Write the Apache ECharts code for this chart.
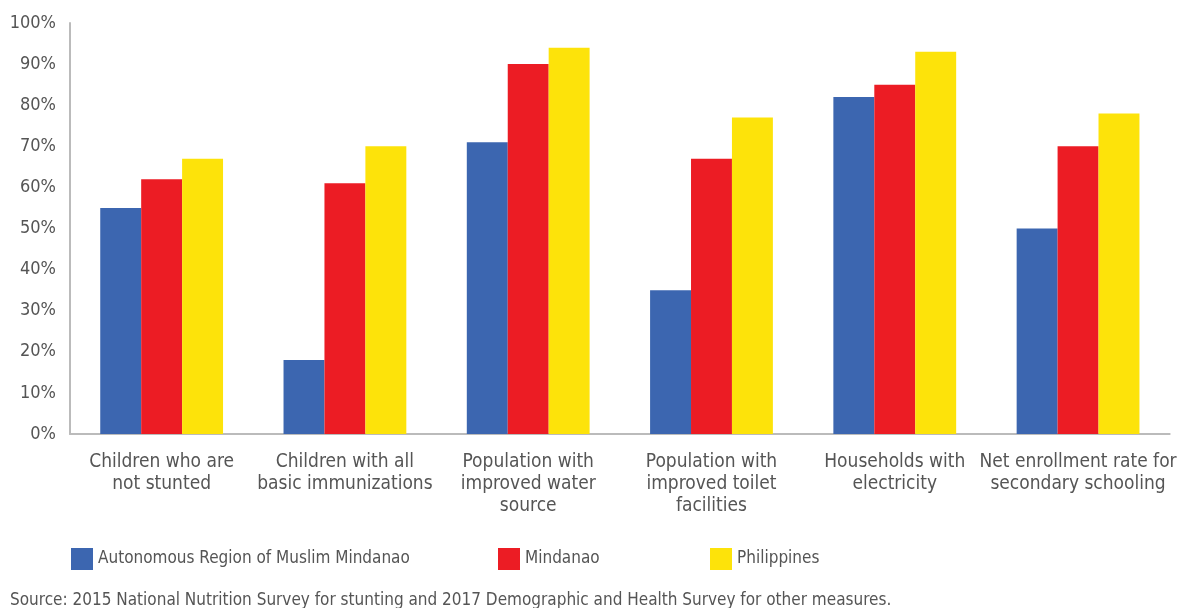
<!DOCTYPE html>
<html>
<head>
<meta charset="utf-8">
<script src="https://cdn.jsdelivr.net/npm/echarts@6/dist/echarts.min.js"></script>
<style>
  html, body { margin: 0; padding: 0; background: #fff; }
  #chart { width: 1179px; height: 608px; }
</style>
</head>
<body>
<div id="chart"></div>
<script>
// categories and values (percent)
const categories = [
    'Children who are\nnot stunted',
    'Children with all\nbasic immunizations',
    'Population with\nimproved water\nsource',
    'Population with\nimproved toilet\nfacilities',
    'Households with\nelectricity',
    'Net enrollment rate for\nsecondary schooling'
];
const armm = [55, 18, 71, 35, 82, 50];
const mindanao = [62, 61, 90, 67, 85, 70];
const philippines = [67, 70, 94, 77, 93, 78];
const yTicks = [0, 10, 20, 30, 40, 50, 60, 70, 80, 90, 100];

const FONT = "'Liberation Sans Narrow', 'DejaVu Sans Condensed', sans-serif";
const TEXT = '#555';

const chart = echarts.init(document.getElementById('chart'));

const legendBase = {
    itemWidth: 22,
    itemHeight: 22,
    itemGap: 10,
    top: 543,
    textStyle: { fontFamily: FONT, fontSize: 17, color: TEXT },
    icon: 'rect'
};

const option = {
    animation: false,
    legend: [
        { ...legendBase, left: 66, data: ['Autonomous Region of Muslim Mindanao'] },
        { ...legendBase, left: 493, data: ['Mindanao'] },
        { ...legendBase, left: 705, data: ['Philippines'] }
    ],
    grid: { left: 70, right: 2, top: 23, bottom: 174 },
    xAxis: {
        type: 'category',
        data: categories,
        axisLine: { lineStyle: { color: '#bbb', width: 2 } },
        axisTick: { show: false },
        axisLabel: {
            fontFamily: FONT, fontSize: 19, color: TEXT,
            lineHeight: 22, margin: 17, interval: 0
        }
    },
    yAxis: {
        type: 'value',
        min: 0, max: 100, interval: 10,
        axisLine: { show: true, lineStyle: { color: '#bbb', width: 2 } },
        splitLine: { show: false },
        axisLabel: {
            fontFamily: FONT, fontSize: 18, color: TEXT, margin: 14,
            formatter: v => yTicks.includes(v) ? v + '%' : ''
        }
    },
    series: [
        { name: 'Autonomous Region of Muslim Mindanao', type: 'bar', data: armm,
          itemStyle: { color: '#3c66b0' }, barGap: '0%', barCategoryGap: '33%' },
        { name: 'Mindanao', type: 'bar', data: mindanao,
          itemStyle: { color: '#ec1c24' } },
        { name: 'Philippines', type: 'bar', data: philippines,
          itemStyle: { color: '#fde30a' } }
    ],
    graphic: [{
        type: 'text', left: 10, top: 592,
        style: {
            text: 'Source: 2015 National Nutrition Survey for stunting and 2017 Demographic and Health Survey for other measures.',
            font: '17px ' + FONT, fill: TEXT
        }
    }]
};

chart.setOption(option);
</script>
</body>
</html>
